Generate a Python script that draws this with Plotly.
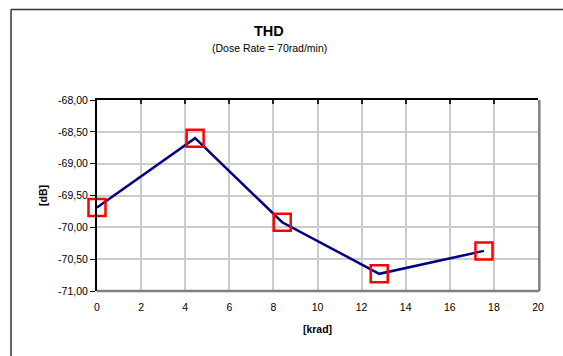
import plotly.graph_objects as go

# Measured THD vs. total dose
dose_krad = [0.0, 4.45, 8.4, 12.8, 17.55]
thd_db = [-69.69, -68.60, -69.92, -70.73, -70.37]

x_ticks = [0, 2, 4, 6, 8, 10, 12, 14, 16, 18, 20]
y_ticks = [-68.0, -68.5, -69.0, -69.5, -70.0, -70.5, -71.0]
y_tick_labels = ["-68,00", "-68,50", "-69,00", "-69,50", "-70,00", "-70,50", "-71,00"]

W, H = 563, 356
ML, MR, MT, MB = 97, 25, 100, 65
PW, PH = W - ML - MR, H - MT - MB

FONT = "Liberation Sans, Arial, sans-serif"


def px_x(p):
    return (p - ML) / PW


def px_y(p):
    return 1 - (p - MT) / PH


fig = go.Figure()
fig.add_trace(go.Scatter(
    x=dose_krad, y=thd_db, mode="lines+markers",
    line=dict(color="#000080", width=2.5),
    marker=dict(symbol="square-open", size=17, color="#ff0000",
                line=dict(color="#ff0000", width=2.5)),
    showlegend=False, cliponaxis=False,
))
# top axis line carrying the inward tick marks
fig.add_trace(go.Scatter(x=[None], y=[None], xaxis="x2", showlegend=False))

fig.update_layout(
    width=W, height=H,
    margin=dict(l=ML, r=MR, t=MT, b=MB),
    paper_bgcolor="white", plot_bgcolor="white",
    font=dict(family=FONT, size=10.5, color="black"),
    xaxis=dict(
        range=[0, 20], tickvals=x_ticks, ticktext=[str(v) for v in x_ticks],
        showgrid=True, gridcolor="#cccccc", gridwidth=1.5,
        showline=False, zeroline=False, ticks="", ticklabelstandoff=8,
        tickfont=dict(size=10.5, family=FONT),
        title=dict(text="<b>[krad]</b>", font=dict(size=10.5, family=FONT), standoff=14),
    ),
    xaxis2=dict(
        range=[0, 20], overlaying="x", side="top", tickvals=x_ticks,
        showticklabels=False, showgrid=False, zeroline=False,
        showline=True, linecolor="black", linewidth=2,
        ticks="inside", ticklen=4, tickcolor="#222", tickwidth=1.5,
    ),
    yaxis=dict(
        range=[-71, -68], tickvals=y_ticks, ticktext=y_tick_labels,
        showgrid=True, gridcolor="#cccccc", gridwidth=1.5,
        showline=True, linecolor="black", linewidth=2, zeroline=False,
        ticks="outside", ticklen=5, tickcolor="black", tickwidth=1,
        tickfont=dict(size=10.5, family=FONT),
        title=dict(text="<b>[dB]</b>", font=dict(size=10.5, family=FONT), standoff=8),
    ),
    shapes=[
        # plot-area border: grey on the bottom and right
        dict(type="line", xref="paper", yref="paper", x0=0, x1=1.003, y0=0, y1=0,
             line=dict(color="#808080", width=2.5)),
        dict(type="line", xref="paper", yref="paper", x0=1.003, x1=1.003, y0=0, y1=1,
             line=dict(color="#808080", width=2.5)),
        # chart frame
        dict(type="line", xref="paper", yref="paper", x0=px_x(11), x1=px_x(W + 5),
             y0=px_y(9.5), y1=px_y(9.5), line=dict(color="#333333", width=1.5)),
        dict(type="line", xref="paper", yref="paper", x0=px_x(11), x1=px_x(11),
             y0=px_y(9.5), y1=px_y(H + 5), line=dict(color="#333333", width=1.5)),
    ],
    annotations=[
        dict(text="<b>THD</b>", xref="paper", yref="paper", x=px_x(269), y=px_y(31),
             showarrow=False, font=dict(size=14.5, family=FONT), xanchor="center", yanchor="middle"),
        dict(text="(Dose Rate = 70rad/min)", xref="paper", yref="paper", x=px_x(269), y=px_y(48),
             showarrow=False, font=dict(size=10.5, family=FONT), xanchor="center", yanchor="middle"),
    ],
)

fig.write_html("out.html")
